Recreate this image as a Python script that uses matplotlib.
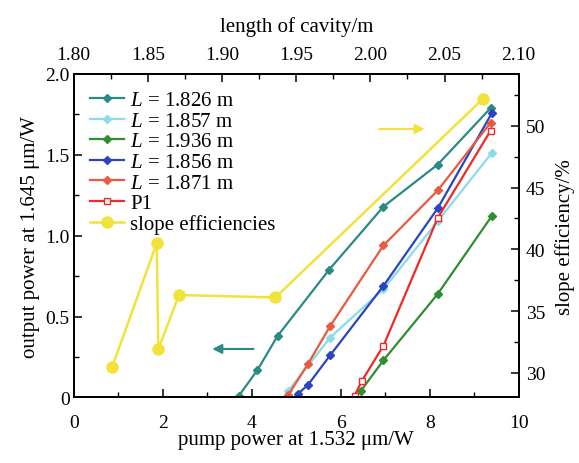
import matplotlib

matplotlib.use("Agg")
import matplotlib.pyplot as plt
from matplotlib.ticker import MultipleLocator

plt.rcParams.update({
    "font.family": ["Liberation Serif", "DejaVu Serif"],
    "mathtext.fontset": "custom", "mathtext.it": "Liberation Serif:italic",
    "mathtext.rm": "Liberation Serif", "font.size": 14,
    "xtick.direction": "in", "ytick.direction": "in",
    "axes.linewidth": 1.2,
})

# pump power (W) vs output power (W) per cavity length
teal_x = [3.71, 4.13, 4.58, 5.74, 6.96, 8.18, 9.37]
teal_y = [0.01, 0.17, 0.38, 0.79, 1.18, 1.44, 1.79]
cyan_x = [4.82, 5.76, 6.96, 8.18, 9.39]
cyan_y = [0.04, 0.37, 0.67, 1.09, 1.51]
green_x = [6.45, 6.96, 8.18, 9.39]
green_y = [0.04, 0.23, 0.64, 1.12]
blue_x = [5.03, 5.27, 5.76, 6.96, 8.18, 9.40]
blue_y = [0.02, 0.08, 0.26, 0.69, 1.17, 1.76]
orange_x = [4.82, 5.27, 5.76, 6.96, 8.18, 9.37]
orange_y = [0.015, 0.21, 0.44, 0.94, 1.28, 1.70]
p1_x = [6.31, 6.47, 6.96, 8.18, 9.37]
p1_y = [0.01, 0.10, 0.32, 1.11, 1.65]

# cavity length (m) vs slope efficiency (%)
cav_len = [1.826, 1.856, 1.857, 1.871, 1.936, 2.076]
slope_eff = [30.5, 40.5, 31.9, 36.3, 36.1, 52.2]

TEAL = "#2a8a84"
CYAN = "#8adcea"
GREEN = "#2f8f2f"
BLUE = "#2b45c0"
ORANGE = "#ea5a40"
RED = "#ee2a2a"
YELLOW = "#f2e33a"

fig = plt.figure(figsize=(5.79, 4.64), dpi=100)
ax = fig.add_axes([0.1273, 0.1412, 0.7686, 0.6972])
ax_r = ax.twinx()
ax_t = ax_r.twiny()

mk = dict(marker="D", ms=4, lw=1.6)
h1, = ax.plot(teal_x, teal_y, color=TEAL, label="$L$ = 1.826 m", **mk)
h2, = ax.plot(cyan_x, cyan_y, color=CYAN, label="$L$ = 1.857 m", **mk)
h3, = ax.plot(green_x, green_y, color=GREEN, label="$L$ = 1.936 m", **mk)
h4, = ax.plot(blue_x, blue_y, color=BLUE, label="$L$ = 1.856 m", **mk)
h5, = ax.plot(orange_x, orange_y, color=ORANGE, label="$L$ = 1.871 m", **mk)
h6, = ax.plot(p1_x, p1_y, color=RED, marker="s", ms=5, mfc="white", lw=1.6, label="P1")
h7, = ax_t.plot(cav_len, slope_eff, color=YELLOW, marker="o", ms=8, lw=1.8,
                label="slope efficiencies")

ax.set_xlim(0, 10)
ax.set_ylim(0, 2.0)
ax.xaxis.set_major_locator(MultipleLocator(2))
ax.xaxis.set_minor_locator(MultipleLocator(1))
ax.yaxis.set_minor_locator(MultipleLocator(0.25))
ax.set_yticks([0, 0.5, 1.0, 1.5, 2.0], ["0", "0.5", "1.0", "1.5", "2.0"])
ax.set_xlabel("pump power at 1.532 μm/W", fontsize=15, labelpad=-1)
ax.set_ylabel("output power at 1.645 μm/W", fontsize=15, labelpad=4)

ax_r.set_ylim(28, 54.2)
ax_r.yaxis.set_major_locator(MultipleLocator(5))
ax_r.yaxis.set_minor_locator(MultipleLocator(2.5))
ax_r.set_ylabel("slope efficiency/%", fontsize=15, labelpad=7)

ax_t.set_xlim(1.80, 2.10)
ax_t.xaxis.set_major_locator(MultipleLocator(0.05))
ax_t.xaxis.set_minor_locator(MultipleLocator(0.025))
ax_t.xaxis.set_major_formatter(lambda v, p: f"{v:.2f}")
ax_t.set_xlabel("length of cavity/m", fontsize=15, labelpad=11)

for a in (ax, ax_r, ax_t):
    a.tick_params(which="major", length=6, width=1.1, labelsize=14)
    a.tick_params(which="minor", length=3.5, width=1.0)
ax.tick_params(axis="x", pad=12)
ax.tick_params(axis="y", pad=3)
ax_r.tick_params(axis="y", pad=5)
ax_t.tick_params(axis="x", pad=8)

# direction arrows
ax.annotate("", xy=(3.05, 0.30), xytext=(4.1, 0.30),
            arrowprops=dict(arrowstyle="-|>", color=TEAL, lw=1.5, mutation_scale=14))
ax.annotate("", xy=(7.95, 1.66), xytext=(6.8, 1.66),
            arrowprops=dict(arrowstyle="-|>", color=YELLOW, lw=1.5, mutation_scale=14))

leg = ax_t.legend(handles=[h1, h2, h3, h4, h5, h6, h7], loc="upper left",
                  bbox_to_anchor=(0.0, 1.0), frameon=False, handlelength=1.6,
                  handletextpad=0.3, labelspacing=0.05, borderaxespad=0.4, fontsize=15)

fig.savefig("out.png")
